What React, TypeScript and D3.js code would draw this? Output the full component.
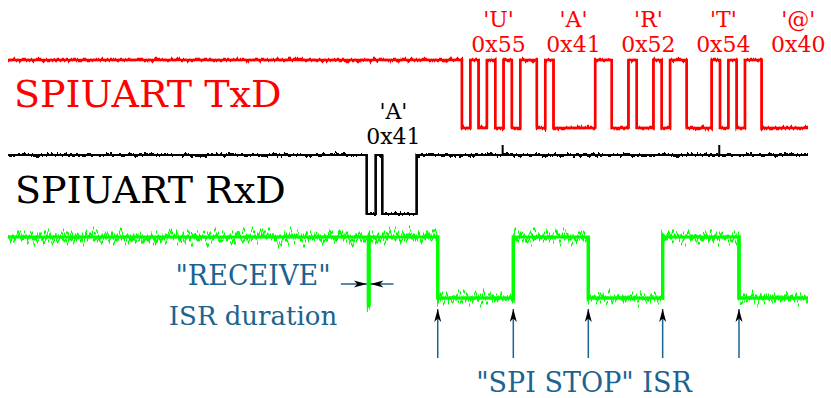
import React from "react";
import * as d3 from "d3";

// time unit = one TxD bit period, trace spans 0..96.1
const T_END = 96.1;

// SPIUART TxD: start time of first frame, then 7N1 frames (start, 7 data LSB first, stop)
const txStart = 54.53;
const txFrames = ["010101011", "010000011", "001001011", "000101011", "000000011"];
const txChars = ["'U'", "'A'", "'R'", "'T'", "'@'"];
const txHex = ["0x55", "0x41", "0x52", "0x54", "0x40"];

// SPIUART RxD edges [time, level]
const rxEdges: [number, number][] = [
  [0, 1],
  [43.09, 0],
  [44.17, 1],
  [44.96, 0],
  [49.09, 1],
];
const rxGlitches = [59.42, 85.44];
const rxLabelTime = 46.3;

// ISR pin: "RECEIVE" pulse and "SPI STOP" ISR edges
const receivePulse: [number, number] = [43.29, 43.36];
const stopIsr = [51.62, 60.7, 69.71, 78.64, 87.81];

const BLUE = "#1b6391";
const FONT = "DejaVu Serif";

function App() {
  const width = 831;
  const height = 398;

  const x = d3.scaleLinear().domain([0, T_END]).range([8, 808]);
  const yTx = d3.scaleLinear().domain([0, 1]).range([128, 60]);
  const yRx = d3.scaleLinear().domain([0, 1]).range([214, 155]);
  const yIsr = d3.scaleLinear().domain([0, 1]).range([298, 237]);

  const step = (ys: d3.ScaleLinear<number, number>) =>
    d3
      .line<[number, number]>()
      .x((d) => x(d[0]))
      .y((d) => ys(d[1]))
      .curve(d3.curveStepAfter);

  // TxD points
  const txBits = txFrames.join("").split("").map(Number);
  const txPts: [number, number][] = [[0, 1]];
  txBits.forEach((b, i) => {
    const t = txStart + i;
    if (t < T_END) txPts.push([t, b]);
  });
  txPts.push([T_END, txPts[txPts.length - 1][1]]);

  const rxPts: [number, number][] = [...rxEdges, [T_END, 1]];

  const isrPts: [number, number][] = [
    [0, 1],
    [receivePulse[0], -0.12],
    [receivePulse[1], 1],
  ];
  stopIsr.forEach((t, i) => isrPts.push([t, i % 2 === 0 ? 0 : 1]));
  isrPts.push([T_END, isrPts[isrPts.length - 1][1]]);

  const noise = (id: string, scale: number, seed: number, fx: number) => (
    <filter
      id={id}
      filterUnits="userSpaceOnUse"
      x={0}
      y={0}
      width={width}
      height={height}
      colorInterpolationFilters="sRGB"
    >
      <feTurbulence
        type="fractalNoise"
        baseFrequency={`${fx} 0.01`}
        numOctaves={3}
        seed={seed}
        result="n"
      />
      <feColorMatrix
        in="n"
        type="matrix"
        values="0 0 0 0 0.5  0 1 0 0 0  0 0 1 0 0  0 0 0 0 1"
        result="m"
      />
      <feDisplacementMap
        in="SourceGraphic"
        in2="m"
        scale={scale}
        xChannelSelector="R"
        yChannelSelector="G"
      />
    </filter>
  );

  // clean core line plus jittered copies on top
  const trace = (d: string, color: string, w: number, filts: string[]) => (
    <g fill="none" stroke={color}>
      <path d={d} strokeWidth={w} />
      {filts.map((f) => (
        <path key={f} d={d} strokeWidth={w} filter={`url(#${f})`} />
      ))}
    </g>
  );

  const spiX = x(receivePulse[0]) - 1.5;
  const spiX2 = x(receivePulse[1]) + 1.5;
  const durY = 284;

  return (
    <svg
      width={width}
      height={height}
      style={{ position: "absolute", left: 0, top: 0, background: "#fff" }}
      fontFamily={FONT}
    >
      <defs>
        {noise("nTx", 7, 4, 0.4)}
        {noise("nRx", 7, 9, 0.4)}
        {noise("nIsr", 30, 2, 0.35)}
        {noise("nIsr2", 18, 7, 0.5)}
        <marker
          id="head"
          viewBox="-14 -5 15 10"
          refX={0}
          refY={0}
          markerWidth={15}
          markerHeight={10}
          markerUnits="userSpaceOnUse"
          orient="auto"
        >
          <path d="M0,0 L-13,-3.5 L-9.5,0 L-13,3.5 Z" fill="#000" />
        </marker>
      </defs>

      {/* traces */}
      {trace(step(yTx)(txPts) ?? "", "#ff0000", 2.4, ["nTx"])}
      {trace(step(yRx)(rxPts) ?? "", "#000", 2.2, ["nRx"])}
      {rxGlitches.map((t, i) => (
        <line
          key={i}
          x1={x(t)}
          x2={x(t)}
          y1={yRx(1)}
          y2={yRx(1) - 10}
          stroke="#000"
          strokeWidth={2}
        />
      ))}
      {trace(step(yIsr)(isrPts) ?? "", "#00ff00", 3, ["nIsr", "nIsr2"])}

      {/* trace names */}
      <text x={14} y={106.5} fontSize={38} fill="#ff0000">
        SPIUART TxD
      </text>
      <text x={15} y={203} fontSize={38} fill="#000">
        SPIUART RxD
      </text>

      {/* character labels */}
      {txChars.map((c, i) => {
        const cx = x(txStart + i * 9 + 4.4);
        return (
          <g key={c} fill="#ff0000" fontSize={22} textAnchor="middle">
            <text x={cx} y={27}>
              {c}
            </text>
            <text x={cx} y={51.5}>
              {txHex[i]}
            </text>
          </g>
        );
      })}
      <g fill="#000" fontSize={22} textAnchor="middle">
        <text x={x(rxLabelTime)} y={118.5}>
          'A'
        </text>
        <text x={x(rxLabelTime)} y={143.5}>
          0x41
        </text>
      </g>

      {/* RECEIVE ISR duration */}
      <line
        x1={spiX - 26}
        x2={spiX}
        y1={durY}
        y2={durY}
        stroke={BLUE}
        strokeWidth={1.5}
        markerEnd="url(#head)"
      />
      <line
        x1={spiX2 + 23}
        x2={spiX2}
        y1={durY}
        y2={durY}
        stroke={BLUE}
        strokeWidth={1.5}
        markerEnd="url(#head)"
      />
      <g fill={BLUE} fontSize={27} textAnchor="middle">
        <text x={253} y={285}>
          "RECEIVE"
        </text>
        <text x={253} y={325} fontSize={26}>
          ISR duration
        </text>
      </g>

      {/* SPI STOP ISR arrows */}
      {stopIsr.map((t, i) => (
        <line
          key={i}
          x1={x(t)}
          x2={x(t)}
          y1={358}
          y2={309}
          stroke={BLUE}
          strokeWidth={1.5}
          markerEnd="url(#head)"
        />
      ))}
      <text x={584} y={392} fill={BLUE} fontSize={27} textAnchor="middle">
        "SPI STOP" ISR
      </text>
    </svg>
  );
}

export default App;
